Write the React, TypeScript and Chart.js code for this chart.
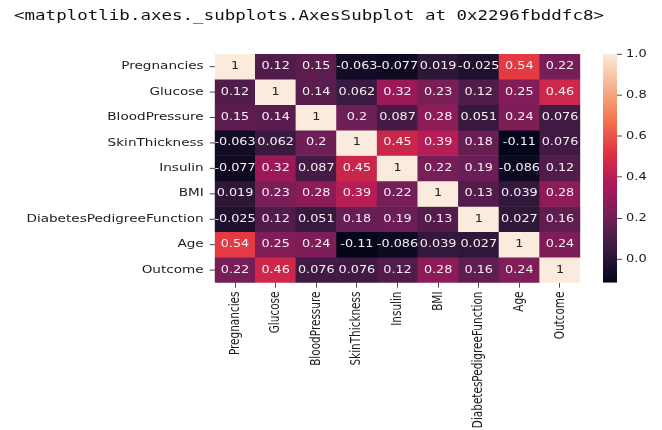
import React, { useEffect, useRef } from "react";
import { Chart, registerables } from "chart.js";

Chart.register(...registerables);

// Feature names (rows and columns of the correlation matrix)
const FEATURES = [
  "Pregnancies",
  "Glucose",
  "BloodPressure",
  "SkinThickness",
  "Insulin",
  "BMI",
  "DiabetesPedigreeFunction",
  "Age",
  "Outcome",
];

// Correlation rows
const pregnancies = [1, 0.12, 0.15, -0.063, -0.077, 0.019, -0.025, 0.54, 0.22];
const glucose = [0.12, 1, 0.14, 0.062, 0.32, 0.23, 0.12, 0.25, 0.46];
const bloodPressure = [0.15, 0.14, 1, 0.2, 0.087, 0.28, 0.051, 0.24, 0.076];
const skinThickness = [-0.063, 0.062, 0.2, 1, 0.45, 0.39, 0.18, -0.114, 0.076];
const insulin = [-0.077, 0.32, 0.087, 0.45, 1, 0.22, 0.19, -0.086, 0.12];
const bmi = [0.019, 0.23, 0.28, 0.39, 0.22, 1, 0.13, 0.039, 0.28];
const pedigree = [-0.025, 0.12, 0.051, 0.18, 0.19, 0.13, 1, 0.027, 0.16];
const age = [0.54, 0.25, 0.24, -0.114, -0.086, 0.039, 0.027, 1, 0.24];
const outcome = [0.22, 0.46, 0.076, 0.076, 0.12, 0.28, 0.16, 0.24, 1];

const CORR = [pregnancies, glucose, bloodPressure, skinThickness, insulin, bmi, pedigree, age, outcome];

const COLORBAR_TICKS = [0, 0.2, 0.4, 0.6, 0.8, 1.0];
const REPR_TEXT = "<matplotlib.axes._subplots.AxesSubplot at 0x2296fbddfc8>";

const VMIN = Math.min(...CORR.flat());
const VMAX = Math.max(...CORR.flat());

// "rocket" colormap control points: [position, r, g, b]
const ROCKET: number[][] = [
  [0, 3, 5, 26],
  [1 / 7, 53, 25, 62],
  [2 / 7, 112, 31, 87],
  [3 / 7, 173, 23, 89],
  [4 / 7, 225, 51, 66],
  [5 / 7, 243, 118, 81],
  [6 / 7, 246, 180, 143],
  [1, 250, 235, 221],
];

function rocketRGB(t: number): number[] {
  const x = Math.max(0, Math.min(1, t));
  for (let i = 1; i < ROCKET.length; i++) {
    const a = ROCKET[i - 1];
    const b = ROCKET[i];
    if (x <= b[0]) {
      const f = (x - a[0]) / (b[0] - a[0]);
      return [1, 2, 3].map((k) => Math.round(a[k] + (b[k] - a[k]) * f));
    }
  }
  const last = ROCKET[ROCKET.length - 1];
  return [last[1], last[2], last[3]];
}

const norm = (v: number) => (v - VMIN) / (VMAX - VMIN);
const cellColor = (v: number) => {
  const [r, g, b] = rocketRGB(norm(v));
  return `rgb(${r},${g},${b})`;
};

function luminance(rgb: number[]): number {
  const lin = rgb.map((c) => {
    const s = c / 255;
    return s <= 0.03928 ? s / 12.92 : Math.pow((s + 0.055) / 1.055, 2.4);
  });
  return 0.2126 * lin[0] + 0.7152 * lin[1] + 0.0722 * lin[2];
}

// Two significant digits, like the "%.2g" annotation format
const fmt2g = (v: number) => String(Number(v.toPrecision(2)));

// Layout frame: charts are laid out in a taller frame and drawn
// with a vertical compression so they fill the visible 662x430 area.
const W = 662;
const H = 558;
const VIEW_H = 430;
const SQUASH = VIEW_H / H;

const HEAT_LEFT = 214.7;
const HEAT_RIGHT = 580.3;
const HEAT_TOP = 70;
const HEAT_BOTTOM = 366.8;

const CB_LEFT = 603;
const CB_RIGHT = 617;
const CB_AXIS_W = 40;

const TICK_FONT = { family: "DejaVu Sans", size: 13.6 };
const TEXT_COLOR = "#1c1c1c";
const TICK_COLOR = "#333333";

// Applies the vertical compression around everything the chart draws
const squashPlugin = {
  id: "squash",
  beforeDraw(chart: any) {
    chart.ctx.save();
    chart.ctx.scale(1, SQUASH);
  },
  afterDraw(chart: any) {
    chart.ctx.restore();
  },
};

const annotationPlugin = {
  id: "cellAnnotations",
  afterDatasetsDraw(chart: any) {
    const { ctx, scales } = chart;
    ctx.save();
    ctx.font = '12.8px "DejaVu Sans"';
    ctx.textAlign = "center";
    ctx.textBaseline = "middle";
    CORR.forEach((row, r) => {
      row.forEach((v, c) => {
        const x = scales.x.getPixelForValue(c);
        const y = scales.y.getPixelForValue(r + 0.5);
        const lum = luminance(rocketRGB(norm(v)));
        ctx.fillStyle = lum > 0.408 ? "#262626" : "#f4eef2";
        ctx.fillText(fmt2g(v), x, y);
      });
    });
    ctx.restore();
  },
};

const reprPlugin = {
  id: "reprText",
  beforeDatasetsDraw(chart: any) {
    const { ctx } = chart;
    ctx.save();
    ctx.font = '17.5px "DejaVu Sans Mono"';
    ctx.fillStyle = "#111111";
    ctx.textAlign = "left";
    ctx.textBaseline = "alphabetic";
    ctx.fillText(REPR_TEXT, 14, 26);
    ctx.restore();
  },
};

export default function App() {
  const heatRef = useRef<HTMLCanvasElement>(null);
  const barRef = useRef<HTMLCanvasElement>(null);

  useEffect(() => {
    if (!heatRef.current || !barRef.current) return;

    const datasets = CORR.map((row, r) => ({
      label: FEATURES[r],
      data: FEATURES.map(() => [r, r + 1]),
      backgroundColor: row.map(cellColor),
      borderWidth: 0,
      grouped: false,
      barPercentage: 1,
      categoryPercentage: 1,
    }));

    const heat = new Chart(heatRef.current, {
      type: "bar",
      data: { labels: FEATURES, datasets: datasets as any },
      options: {
        animation: false,
        responsive: false,
        devicePixelRatio: 1,
        events: [],
        layout: { padding: { left: 0, right: W - HEAT_RIGHT, top: HEAT_TOP, bottom: 0 } },
        plugins: { legend: { display: false }, tooltip: { enabled: false } },
        scales: {
          x: {
            type: "category",
            offset: true,
            border: { display: false },
            grid: {
              drawOnChartArea: false,
              drawTicks: true,
              tickLength: 6.5,
              offset: false,
              color: TICK_COLOR,
            },
            ticks: {
              autoSkip: false,
              minRotation: 90,
              maxRotation: 90,
              padding: 5,
              font: TICK_FONT,
              color: TEXT_COLOR,
            },
            afterFit: (s: any) => {
              s.height = H - HEAT_BOTTOM;
            },
          },
          y: {
            type: "linear",
            min: 0,
            max: FEATURES.length,
            reverse: true,
            border: { display: false },
            grid: {
              drawOnChartArea: false,
              drawTicks: true,
              tickLength: 5,
              color: TICK_COLOR,
            },
            ticks: {
              autoSkip: false,
              padding: 6,
              font: TICK_FONT,
              color: TEXT_COLOR,
              callback: (v: any) => FEATURES[Math.floor(Number(v))],
            },
            afterBuildTicks: (s: any) => {
              s.ticks = FEATURES.map((_, i) => ({ value: i + 0.5 }));
            },
            afterFit: (s: any) => {
              s.width = HEAT_LEFT;
            },
          },
        },
      } as any,
      plugins: [squashPlugin, reprPlugin, annotationPlugin],
    });

    const colorbar = new Chart(barRef.current, {
      type: "bar",
      data: {
        labels: ["corr"],
        datasets: [
          {
            data: [[VMIN, VMAX]] as any,
            borderWidth: 0,
            barPercentage: 1,
            categoryPercentage: 1,
            inflateAmount: 0,
            backgroundColor: (c: any) => {
              const chart = c.chart;
              const ys = chart.scales?.y;
              if (!chart.chartArea || !ys) return "rgb(120,30,90)";
              const g = chart.ctx.createLinearGradient(
                0,
                ys.getPixelForValue(VMIN),
                0,
                ys.getPixelForValue(VMAX)
              );
              ROCKET.forEach((p) => g.addColorStop(p[0], `rgb(${p[1]},${p[2]},${p[3]})`));
              return g;
            },
          } as any,
        ],
      },
      options: {
        animation: false,
        responsive: false,
        devicePixelRatio: 1,
        events: [],
        layout: {
          padding: { left: CB_LEFT, right: W - CB_RIGHT - CB_AXIS_W, top: HEAT_TOP, bottom: H - HEAT_BOTTOM },
        },
        plugins: { legend: { display: false }, tooltip: { enabled: false } },
        scales: {
          x: { display: false, offset: true },
          y: {
            type: "linear",
            position: "right",
            min: VMIN,
            max: VMAX,
            border: { display: false },
            grid: {
              drawOnChartArea: false,
              drawTicks: true,
              tickLength: 5,
              color: TICK_COLOR,
            },
            ticks: {
              padding: 4,
              font: { family: "DejaVu Sans", size: 13 },
              color: TEXT_COLOR,
              callback: (v: any) => Number(v).toFixed(1),
            },
            afterBuildTicks: (s: any) => {
              s.ticks = COLORBAR_TICKS.map((v) => ({ value: v }));
            },
            afterFit: (s: any) => {
              s.width = CB_AXIS_W;
            },
          },
        },
      } as any,
      plugins: [squashPlugin],
    });

    return () => {
      heat.destroy();
      colorbar.destroy();
    };
  }, []);

  return (
    <div
      style={{
        position: "fixed",
        left: 0,
        top: 0,
        width: W,
        height: VIEW_H,
        overflow: "hidden",
        background: "#ffffff",
      }}
    >
      <canvas
        ref={heatRef}
        width={W}
        height={H}
        style={{ position: "absolute", left: 0, top: 0, width: W, height: H }}
      />
      <canvas
        ref={barRef}
        width={W}
        height={H}
        style={{ position: "absolute", left: 0, top: 0, width: W, height: H }}
      />
    </div>
  );
}
